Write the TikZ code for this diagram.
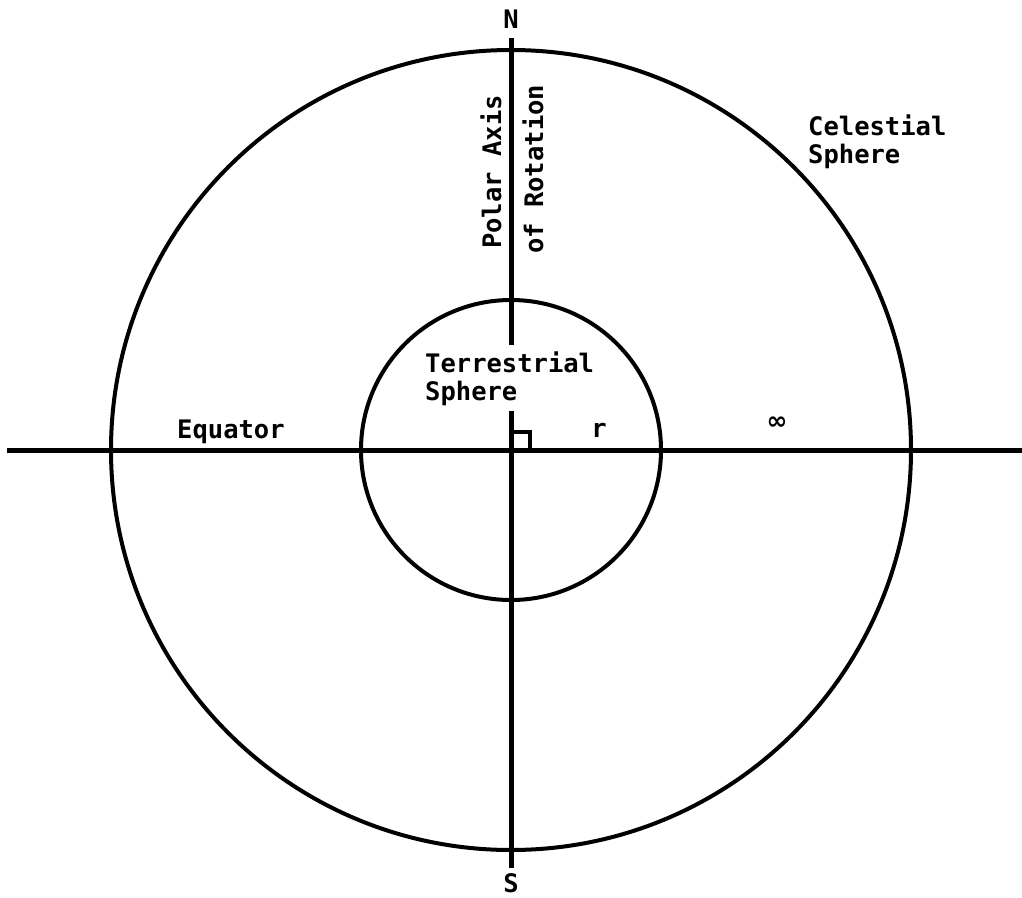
\documentclass[tikz,border=0pt]{standalone}
\usepackage{fontspec}
\setmonofont{DejaVu Sans Mono}
\newfontfamily\symfont{DejaVu Sans}
\begin{document}
\begin{tikzpicture}[x=1pt,y=-1pt,
  lbl/.style={font=\ttfamily\bfseries\fontsize{25.5}{28}\selectfont, inner sep=0pt, text=black},
  axis/.style={line width=5pt},
  ring/.style={line width=4pt}]
\useasboundingbox (0,0) rectangle (1022,897);
\coordinate (O) at (511,450);
% circles
\draw[ring] (O) circle[radius=400pt];
\draw[ring] (O) circle[radius=150pt];
% axes
\coordinate (W) at (7,450);
\coordinate (E) at (1022,450);
\coordinate (Ntop) at (511,38);
\coordinate (Sbot) at (511,868);
\draw[axis] (W) -- (E);
\draw[axis] (Ntop) -- (Sbot);
% right angle
\coordinate (ra1) at (511,432);
\coordinate (ra2) at (530,432);
\coordinate (ra3) at (530,450);
\draw[line width=3.5pt] (ra1) -- (ra2) -- (ra3);
% labels
\node[lbl, anchor=base] (N) at (511,28) {N};
\node[lbl, anchor=base] (S) at (511,892) {S};
\node[lbl, anchor=base west, align=left, fill=white, inner xsep=0pt, inner ysep=6pt] (terr) at (425,400) {Terrestrial\\Sphere};
\node[lbl, anchor=base west, align=left] (cel) at (808,163) {Celestial\\Sphere};
\node[lbl, anchor=base west] (eq) at (177,438) {Equator};
\node[lbl, anchor=base] (r) at (599,437) {r};
\node[font=\symfont\bfseries\fontsize{25}{28}\selectfont, inner sep=0pt] (inf) at (777,423) {∞};
\node[lbl, rotate=90, anchor=base west] (polar) at (501,249) {Polar Axis};
\node[lbl, rotate=90, anchor=base west] (rot) at (543,254) {of Rotation};
\end{tikzpicture}
\end{document}
